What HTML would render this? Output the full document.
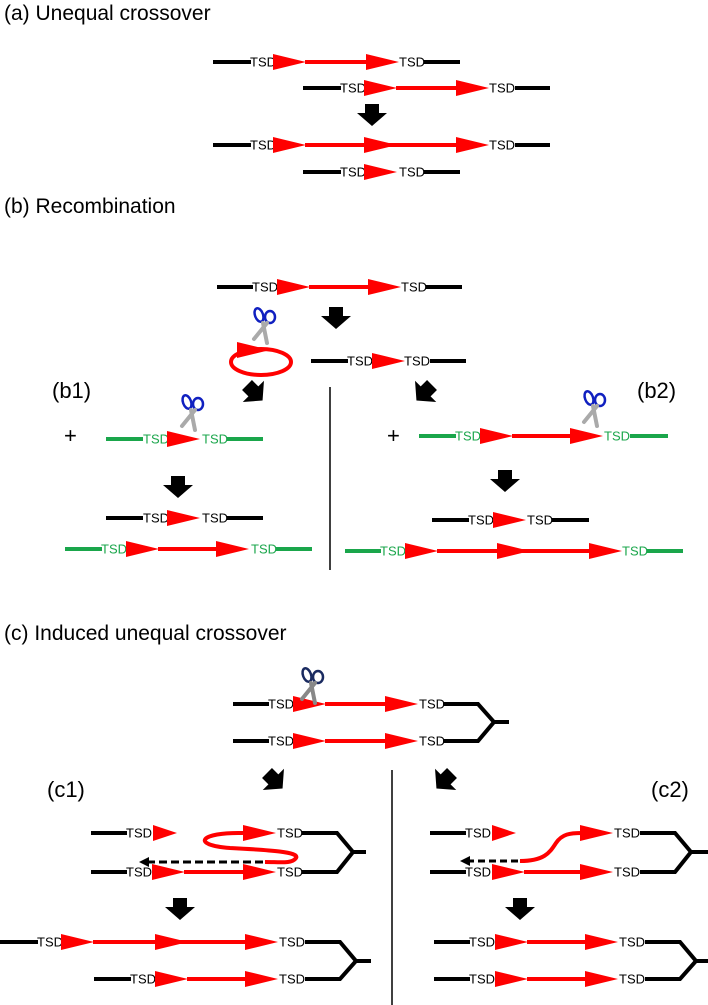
<!DOCTYPE html>
<html><head><meta charset="utf-8"><style>
html,body{margin:0;padding:0;background:#fff}
svg{display:block}
text{font-family:"Liberation Sans",sans-serif}
.t{font-size:13px;dominant-baseline:central}
.h{font-size:21px}
.k{stroke:#000;stroke-width:4;fill:none}
.g{stroke:#1aa64b;stroke-width:4;fill:none}
.r{stroke:#f00;stroke-width:4;fill:none}
.tri{fill:#f00}
.gt{fill:#1aa64b}
</style></head><body>
<svg width="708" height="1005" viewBox="0 0 708 1005" xmlns="http://www.w3.org/2000/svg">
<defs>
<polygon id="tr" points="0,-8 0,8 33,0" class="tri"/>
<polygon id="da" points="-7,0 7,0 7,9 15,9 0,22 -15,9 -7,9" fill="#000"/>
<g id="sc">
<ellipse cx="-5" cy="-12" rx="4" ry="7" fill="none" stroke="#1020c0" stroke-width="2.5" transform="rotate(-20 -5 -12)"/>
<ellipse cx="6" cy="-10" rx="5" ry="6" fill="none" stroke="#1020c0" stroke-width="2.5"/>
<line x1="-1" y1="-4" x2="3" y2="16" stroke="#aaa" stroke-width="4" stroke-linecap="round"/>
<line x1="3" y1="-4" x2="-10" y2="12" stroke="#aaa" stroke-width="4" stroke-linecap="round"/>
</g>
<g id="sc2">
<ellipse cx="-5" cy="-12" rx="4" ry="7" fill="none" stroke="#1a2a60" stroke-width="2.5" transform="rotate(-20 -5 -12)"/>
<ellipse cx="6" cy="-10" rx="5" ry="6" fill="none" stroke="#1a2a60" stroke-width="2.5"/>
<line x1="-1" y1="-4" x2="3" y2="16" stroke="#888" stroke-width="4" stroke-linecap="round"/>
<line x1="3" y1="-4" x2="-10" y2="12" stroke="#888" stroke-width="4" stroke-linecap="round"/>
</g>
</defs>

<text x="4" y="20" class="h">(a) Unequal crossover</text>
<line x1="213" y1="62" x2="251" y2="62" class="k"/><text x="250" y="62" class="t">TSD</text>
<use href="#tr" x="273" y="62"/><line x1="305" y1="62" x2="366" y2="62" class="r"/><use href="#tr" x="366" y="62"/>
<text x="399" y="62" class="t">TSD</text><line x1="424" y1="62" x2="460" y2="62" class="k"/>
<line x1="303" y1="88" x2="341" y2="88" class="k"/><text x="340" y="88" class="t">TSD</text>
<use href="#tr" x="364" y="88"/><line x1="396" y1="88" x2="456" y2="88" class="r"/><use href="#tr" x="456" y="88"/>
<text x="489" y="88" class="t">TSD</text><line x1="515" y1="88" x2="550" y2="88" class="k"/>
<use href="#da" x="372" y="104"/>
<line x1="213" y1="145" x2="251" y2="145" class="k"/><text x="250" y="145" class="t">TSD</text>
<use href="#tr" x="273" y="145"/><line x1="305" y1="145" x2="456" y2="145" class="r"/><use href="#tr" x="364" y="145"/><use href="#tr" x="456" y="145"/>
<text x="489" y="145" class="t">TSD</text><line x1="515" y1="145" x2="550" y2="145" class="k"/>
<line x1="303" y1="172" x2="341" y2="172" class="k"/><text x="340" y="172" class="t">TSD</text>
<use href="#tr" x="364" y="172"/><text x="399" y="172" class="t">TSD</text><line x1="424" y1="172" x2="460" y2="172" class="k"/>

<text x="4" y="213" class="h">(b) Recombination</text>
<line x1="217" y1="287" x2="253" y2="287" class="k"/><text x="252" y="287" class="t">TSD</text>
<use href="#tr" x="277" y="287"/><line x1="309" y1="287" x2="368" y2="287" class="r"/><use href="#tr" x="368" y="287"/>
<text x="401" y="287" class="t">TSD</text><line x1="426" y1="287" x2="462" y2="287" class="k"/>
<use href="#da" x="336" y="307"/>
<ellipse cx="261" cy="362" rx="30" ry="13" fill="none" stroke="#f00" stroke-width="4"/>
<polygon points="237,342 237,358 270,350" class="tri"/>
<use href="#sc" x="264" y="327"/>
<line x1="311" y1="361" x2="348" y2="361" class="k"/><text x="347" y="361" class="t">TSD</text>
<use href="#tr" x="372" y="361"/><text x="404" y="361" class="t">TSD</text><line x1="430" y1="361" x2="466" y2="361" class="k"/>
<use href="#da" transform="translate(247,385) rotate(-45)"/>
<use href="#da" transform="translate(432,385) rotate(45)"/>
<line x1="330" y1="387" x2="330" y2="570" stroke="#000" stroke-width="1.5"/>

<text x="52" y="398" style="font-size:22px">(b1)</text>
<text x="64" y="443" style="font-size:22px">+</text>
<line x1="106" y1="439" x2="143" y2="439" class="g"/><text x="143" y="439" class="t gt">TSD</text>
<use href="#tr" x="167" y="439"/><text x="202" y="439" class="t gt">TSD</text><line x1="227" y1="439" x2="263" y2="439" class="g"/>
<use href="#sc" x="192" y="414"/>
<use href="#da" x="178" y="476"/>
<line x1="106" y1="518" x2="143" y2="518" class="k"/><text x="143" y="518" class="t">TSD</text>
<use href="#tr" x="167" y="518"/><text x="202" y="518" class="t">TSD</text><line x1="227" y1="518" x2="263" y2="518" class="k"/>
<line x1="65" y1="549" x2="102" y2="549" class="g"/><text x="101" y="549" class="t gt">TSD</text>
<use href="#tr" x="126" y="549"/><line x1="158" y1="549" x2="216" y2="549" class="r"/><use href="#tr" x="216" y="549"/>
<text x="251" y="549" class="t gt">TSD</text><line x1="276" y1="549" x2="312" y2="549" class="g"/>

<text x="637" y="398" style="font-size:22px">(b2)</text>
<text x="387" y="443" style="font-size:22px">+</text>
<line x1="419" y1="436" x2="456" y2="436" class="g"/><text x="455" y="436" class="t gt">TSD</text>
<use href="#tr" x="480" y="436"/><line x1="512" y1="436" x2="570" y2="436" class="r"/><use href="#tr" x="570" y="436"/>
<text x="604" y="436" class="t gt">TSD</text><line x1="630" y1="436" x2="668" y2="436" class="g"/>
<use href="#sc" x="594" y="410"/>
<use href="#da" x="505" y="470"/>
<line x1="432" y1="520" x2="469" y2="520" class="k"/><text x="468" y="520" class="t">TSD</text>
<use href="#tr" x="493" y="520"/><text x="527" y="520" class="t">TSD</text><line x1="552" y1="520" x2="589" y2="520" class="k"/>
<line x1="345" y1="551" x2="381" y2="551" class="g"/><text x="380" y="551" class="t gt">TSD</text>
<use href="#tr" x="405" y="551"/><line x1="437" y1="551" x2="589" y2="551" class="r"/><use href="#tr" x="497" y="551"/><use href="#tr" x="589" y="551"/>
<text x="622" y="551" class="t gt">TSD</text><line x1="647" y1="551" x2="683" y2="551" class="g"/>

<text x="4" y="640" class="h">(c) Induced unequal crossover</text>
<line x1="233" y1="704" x2="269" y2="704" class="k"/><text x="268" y="704" class="t">TSD</text>
<use href="#tr" x="293" y="704"/><line x1="325" y1="704" x2="385" y2="704" class="r"/><use href="#tr" x="385" y="704"/>
<text x="419" y="704" class="t">TSD</text>
<line x1="233" y1="741" x2="269" y2="741" class="k"/><text x="268" y="741" class="t">TSD</text>
<use href="#tr" x="293" y="741"/><line x1="325" y1="741" x2="385" y2="741" class="r"/><use href="#tr" x="385" y="741"/>
<text x="419" y="741" class="t">TSD</text>
<polyline points="443,704 478,704 494,722 478,741 443,741" class="k"/><line x1="494" y1="722" x2="509" y2="722" class="k"/>
<use href="#sc2" x="312" y="687"/>
<use href="#da" transform="translate(267,773) rotate(-45)"/>
<use href="#da" transform="translate(452,773) rotate(45)"/>
<line x1="392" y1="770" x2="392" y2="1005" stroke="#000" stroke-width="1.5"/>

<text x="47" y="797" style="font-size:22px">(c1)</text>
<line x1="91" y1="833" x2="127" y2="833" class="k"/><text x="126" y="833" class="t">TSD</text>
<polygon points="153,825 153,841 177,833" class="tri"/>
<path d="M243,833 C200,832 190,845 230,848 C270,850 300,852 296,858 C292,864 280,862 265,862" class="r" stroke-width="3"/>
<use href="#tr" x="243" y="833"/>
<text x="277" y="833" class="t">TSD</text>
<line x1="263" y1="862" x2="148" y2="862" stroke="#000" stroke-width="3" stroke-dasharray="8,4"/>
<polygon points="139,862 149,857 149,867" fill="#000"/>
<line x1="91" y1="872" x2="127" y2="872" class="k"/><text x="126" y="872" class="t">TSD</text>
<use href="#tr" x="152" y="872"/><line x1="184" y1="872" x2="243" y2="872" class="r"/><use href="#tr" x="243" y="872"/>
<text x="277" y="872" class="t">TSD</text>
<polyline points="302,833 337,833 353,852 337,872 302,872" class="k"/><line x1="353" y1="852" x2="366" y2="852" class="k"/>
<use href="#da" x="180" y="898"/>
<line x1="0" y1="942" x2="38" y2="942" class="k"/><text x="37" y="942" class="t">TSD</text>
<use href="#tr" x="61" y="942"/><line x1="93" y1="942" x2="245" y2="942" class="r"/><use href="#tr" x="155" y="942"/><use href="#tr" x="245" y="942"/>
<text x="279" y="942" class="t">TSD</text>
<line x1="94" y1="979" x2="131" y2="979" class="k"/><text x="130" y="979" class="t">TSD</text>
<use href="#tr" x="155" y="979"/><line x1="187" y1="979" x2="245" y2="979" class="r"/><use href="#tr" x="245" y="979"/>
<text x="279" y="979" class="t">TSD</text>
<polyline points="305,942 340,942 356,961 340,979 305,979" class="k"/><line x1="356" y1="961" x2="371" y2="961" class="k"/>

<text x="651" y="797" style="font-size:22px">(c2)</text>
<line x1="430" y1="833" x2="466" y2="833" class="k"/><text x="465" y="833" class="t">TSD</text>
<polygon points="492,825 492,841 516,833" class="tri"/>
<path d="M520,861 C545,861 550,852 556,843 C562,834 570,833 582,833" class="r"/>
<use href="#tr" x="580" y="833"/><text x="614" y="833" class="t">TSD</text>
<line x1="518" y1="861" x2="470" y2="861" stroke="#000" stroke-width="3" stroke-dasharray="7,4"/>
<polygon points="460,861 470,856 470,866" fill="#000"/>
<line x1="430" y1="872" x2="466" y2="872" class="k"/><text x="465" y="872" class="t">TSD</text>
<use href="#tr" x="492" y="872"/><line x1="524" y1="872" x2="580" y2="872" class="r"/><use href="#tr" x="580" y="872"/>
<text x="614" y="872" class="t">TSD</text>
<polyline points="640,833 675,833 691,852 675,872 640,872" class="k"/><line x1="691" y1="852" x2="708" y2="852" class="k"/>
<use href="#da" x="520" y="898"/>
<line x1="434" y1="942" x2="470" y2="942" class="k"/><text x="469" y="942" class="t">TSD</text>
<use href="#tr" x="495" y="942"/><line x1="527" y1="942" x2="585" y2="942" class="r"/><use href="#tr" x="585" y="942"/>
<text x="619" y="942" class="t">TSD</text>
<line x1="434" y1="979" x2="470" y2="979" class="k"/><text x="469" y="979" class="t">TSD</text>
<use href="#tr" x="495" y="979"/><line x1="527" y1="979" x2="585" y2="979" class="r"/><use href="#tr" x="585" y="979"/>
<text x="619" y="979" class="t">TSD</text>
<polyline points="645,942 680,942 696,961 680,979 645,979" class="k"/><line x1="696" y1="961" x2="708" y2="961" class="k"/>
</svg>
</body></html>
